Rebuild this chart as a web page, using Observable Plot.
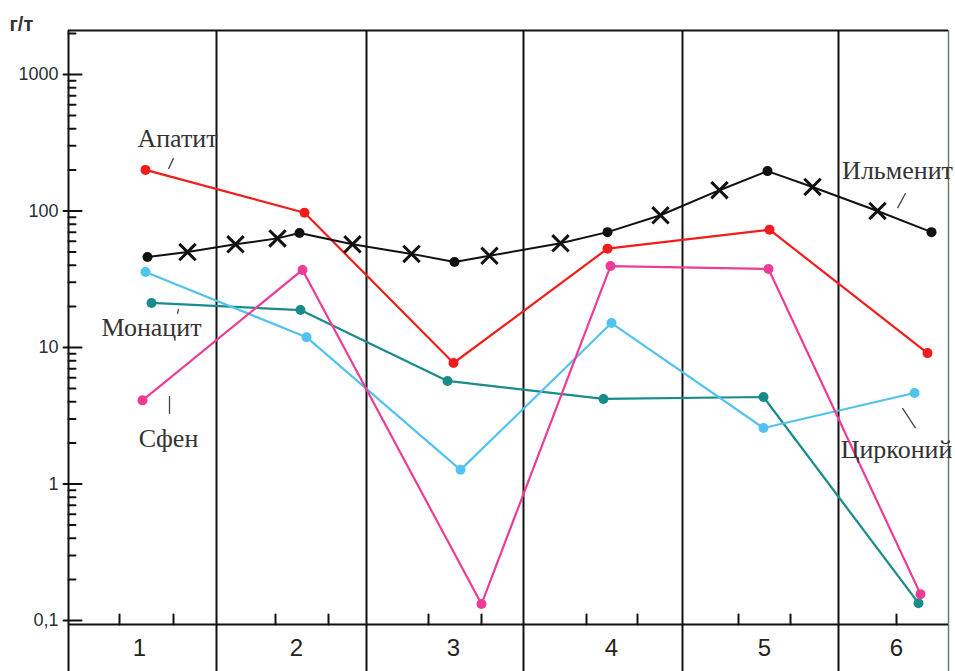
<!DOCTYPE html>
<html><head><meta charset="utf-8">
<script src="https://cdn.jsdelivr.net/npm/d3@7"></script>
<script src="https://cdn.jsdelivr.net/npm/@observablehq/plot@0.6"></script>
<style>body{margin:0;background:#fff}</style>
</head><body><div id="chart"></div>
<script>
// Sample groups (bottom band) and profile positions
const categories = ["1", "2", "3", "4", "5", "6"];
const categoryX = [0.71, 2.28, 3.85, 5.43, 6.96, 8.28];
const columnBounds = [1.48, 2.98, 4.55, 6.14, 7.70];
const bottomTicksX = [0.51, 1.05, 2.07, 2.60, 3.60, 4.13, 5.18, 5.69, 6.70, 7.22, 8.28];
const yTickValues = [0.1, 1, 10, 100, 1000];
const yTickLabels = ["0,1", "1", "10", "100", "1000"];
const unitLabel = "г/т";

// Series (г/т)
const apatitX = [0.77, 2.36, 3.85, 5.39, 7.01, 8.59];
const apatitV = [200, 97, 7.7, 53, 73, 9.1];

const ilmenitX = [0.79, 1.19, 1.67, 2.09, 2.31, 2.84, 3.43, 3.86, 4.21, 4.92, 5.39, 5.92, 6.51, 6.99, 7.44, 8.09, 8.63];
const ilmenitV = [46, 50, 57, 63, 69, 57, 48.5, 42.3, 47, 58, 70, 93, 142, 196, 150, 100, 70];
const ilmenitMark = ["dot","cross","cross","cross","dot","cross","cross","dot","cross","cross","dot","cross","cross","dot","cross","cross","dot"];

const sfenX = [0.74, 2.34, 4.13, 5.42, 7.00, 8.52];
const sfenV = [4.1, 37, 0.132, 39.5, 37.6, 0.156];

const zirconX = [0.77, 2.38, 3.92, 5.43, 6.95, 8.46];
const zirconV = [35.7, 11.9, 1.27, 15.1, 2.57, 4.64];

const monazitX = [0.83, 2.32, 3.79, 5.35, 6.95, 8.50];
const monazitV = [21.2, 18.8, 5.69, 4.2, 4.34, 0.134];

// Series labels with leader lines
const labelNames = ["Апатит", "Монацит", "Сфен", "Ильменит", "Цирконий"];
const labelX = [1.09, 0.83, 1.00, 8.29, 8.28];
const labelY = [337, 13.9, 2.14, 196, 1.77];
const leaderX1 = [1.05, 1.10, 1.01, 8.37, 8.34];
const leaderY1 = [244, 19.1, 4.41, 135, 3.6];
const leaderX2 = [1.00, 1.09, 1.01, 8.29, 8.47];
const leaderY2 = [203, 17.6, 3.26, 105, 2.57];

const yMin = 0.0935, yMax = 2100;
const xMax = 8.8;

const colors = {red: "#f21c1c", pink: "#ee3c96", cyan: "#52c2f0", teal: "#1a8b8b", black: "#111"};

const toRows = (xs, vs) => xs.map((x, i) => ({x, v: vs[i]}));
const ilmRows = ilmenitX.map((x, i) => ({x, v: ilmenitV[i], m: ilmenitMark[i]}));
const labels = labelNames.map((t, i) => ({t, x: labelX[i], y: labelY[i], x1: leaderX1[i], y1: leaderY1[i], x2: leaderX2[i], y2: leaderY2[i]}));
const cats = categories.map((c, i) => ({c, x: categoryX[i]}));
const yTicks = yTickValues.map((v, i) => ({v, t: yTickLabels[i]}));

const minorY = [];
for (const d of yTickValues) for (let k = 2; k <= 9; k++) { const v = k * d; if (v < yMax) minorY.push(v); }

const tickDown = {draw(c, l) { c.moveTo(0, 0); c.lineTo(0, l); }};
const tickUp = {draw(c, l) { c.moveTo(0, 0); c.lineTo(0, -l); }};
const tickRight = {draw(c, l) { c.moveTo(0, 0); c.lineTo(l, 0); }};
const tickLeft = {draw(c, l) { c.moveTo(0, 0); c.lineTo(-l, 0); }};

const seriesMarks = (rows, color) => [
  Plot.line(rows, {x: "x", y: "v", stroke: color, strokeWidth: 2.2}),
  Plot.dot(rows, {x: "x", y: "v", fill: color, r: 5})
];

const chart = Plot.plot({
  width: 955, height: 671,
  marginLeft: 68, marginRight: 7, marginTop: 30, marginBottom: 47,
  x: {domain: [0, xMax], axis: null},
  y: {type: "log", domain: [yMin, yMax], axis: null},
  style: {fontFamily: "'Liberation Sans', Arial, sans-serif", background: "white", overflow: "visible"},
  marks: [
    // frame and column grid
    Plot.ruleX(columnBounds, {stroke: "#111", strokeWidth: 2}),
    Plot.vector(columnBounds, {x: d => d, y: yMin, length: 47, shape: tickDown, anchor: "start", stroke: "#111", strokeWidth: 2}),
    Plot.ruleX([0], {stroke: "#111", strokeWidth: 2}),
    Plot.vector([0], {x: d => d, y: yMin, length: 47, shape: tickDown, anchor: "start", stroke: "#111", strokeWidth: 2}),
    Plot.ruleX([xMax], {stroke: "#6d7d6d", strokeWidth: 1.5}),
    Plot.vector([xMax], {x: d => d, y: yMin, length: 47, shape: tickDown, anchor: "start", stroke: "#6d7d6d", strokeWidth: 1.5}),
    Plot.ruleY([yMax], {stroke: "#111", strokeWidth: 2}),
    Plot.ruleY([yMin], {stroke: "#111", strokeWidth: 2}),
    Plot.vector(bottomTicksX, {x: d => d, y: yMin, length: 10, shape: tickUp, anchor: "start", stroke: "#111", strokeWidth: 2}),
    // y axis
    Plot.vector(yTickValues, {x: 0, y: d => d, length: 5, shape: tickLeft, anchor: "start", stroke: "#111", strokeWidth: 2}),
    Plot.vector(yTickValues, {x: 0, y: d => d, length: 13, shape: tickRight, anchor: "start", stroke: "#111", strokeWidth: 2}),
    Plot.vector(minorY, {x: 0, y: d => d, length: 7, shape: tickRight, anchor: "start", stroke: "#111", strokeWidth: 2}),
    Plot.text(yTicks, {x: 0, y: "v", text: "t", dx: -10, textAnchor: "end", lineAnchor: "middle", fontSize: 18, fill: "#2a2f38"}),
    Plot.text([unitLabel], {frameAnchor: "top-left", dx: -59, dy: -6, textAnchor: "start", lineAnchor: "middle", fontSize: 20, fontWeight: "bold", fill: "#333"}),
    // categories
    Plot.text(cats, {x: "x", frameAnchor: "bottom", dy: 24, text: "c", fontSize: 24, fill: "#222", lineAnchor: "middle"}),
    // series
    ...seriesMarks(toRows(monazitX, monazitV), colors.teal),
    ...seriesMarks(toRows(zirconX, zirconV), colors.cyan),
    ...seriesMarks(toRows(sfenX, sfenV), colors.pink),
    ...seriesMarks(toRows(apatitX, apatitV), colors.red),
    Plot.line(ilmRows, {x: "x", y: "v", stroke: colors.black, strokeWidth: 2}),
    Plot.dot(ilmRows.filter(d => d.m === "dot"), {x: "x", y: "v", fill: colors.black, r: 5}),
    Plot.dot(ilmRows.filter(d => d.m === "cross"), {x: "x", y: "v", symbol: "times", r: 7.5, stroke: colors.black, strokeWidth: 3}),
    // labels
    Plot.link(labels, {x1: "x1", y1: "y1", x2: "x2", y2: "y2", stroke: "#444", strokeWidth: 1.3}),
    Plot.text(labels, {x: "x", y: "y", text: "t", fontSize: 26, fontFamily: "'Liberation Serif', 'Times New Roman', serif", fill: "#333"})
  ]
});
document.getElementById("chart").appendChild(chart);
</script>
</body></html>
